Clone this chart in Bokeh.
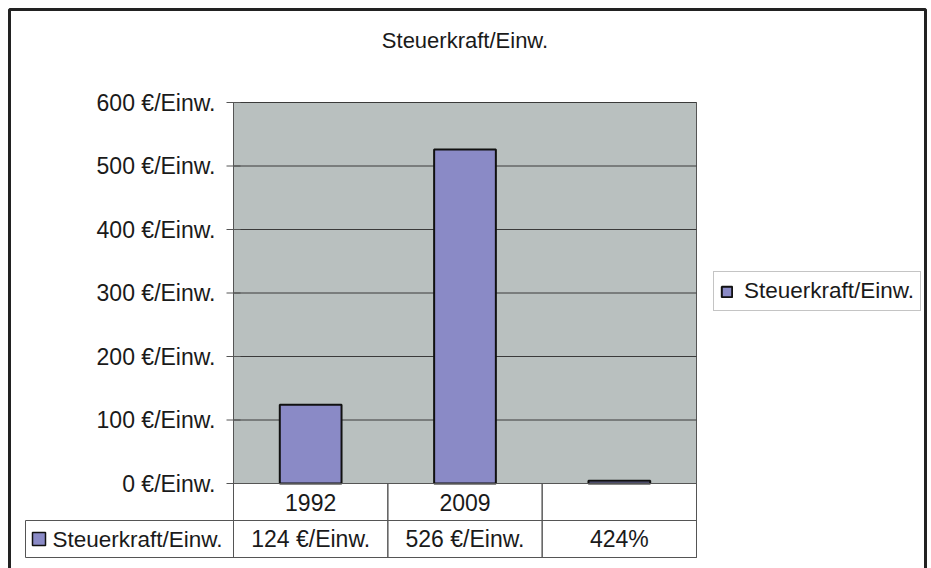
from bokeh.plotting import figure
from bokeh.models import (Range1d, Legend, LegendItem, Label, LabelSet, BoxAnnotation,
                          ColumnDataSource)
from bokeh.core.properties import value
from bokeh.embed import file_html
from bokeh.resources import INLINE

# --- data -----------------------------------------------------------------
chart_title = "Steuerkraft/Einw."
series_name = "Steuerkraft/Einw."
categories = ["1992", "2009", ""]
values = [124, 526, 4.24]
value_labels = ["124 €/Einw.", "526 €/Einw.", "424%"]
y_ticks = [0, 100, 200, 300, 400, 500, 600]
tick_labels = [f"{t} €/Einw." for t in y_ticks]

# --- page layout in canvas pixels (origin top-left) -----------------------
W, H = 931, 568
PLOT_L, PLOT_R, PLOT_T, PLOT_B = 233, 696, 102, 483   # grey plot area
ROW1_B, ROW2_B = 520, 557                              # data table rows
TABLE_L = 25

FONT = "Liberation Sans"
TEXT = "#1a1a1a"
BAR_FILL = "#8A8AC6"
PLOT_BG = "#B9C0BF"
RULE = "#555555"

n = len(categories)
y_max = y_ticks[-1]

# the frame fills the whole canvas; choose the ranges so that the
# category band [0, n] and the value band [0, y_max] land on the plot area
px_per_cat = (PLOT_R - PLOT_L) / n
px_per_val = (PLOT_B - PLOT_T) / y_max
x_range = Range1d(-PLOT_L / px_per_cat, n + (W - PLOT_R) / px_per_cat)
y_range = Range1d(-(H - PLOT_B) / px_per_val, y_max + PLOT_T / px_per_val)


def sy(cy):
    """canvas y (top-down) -> annotation screen units (bottom-up)"""
    return H - cy


def box(**kw):
    """opaque box annotation (defaults are translucent)"""
    kw.setdefault("fill_color", None)
    kw.setdefault("fill_alpha", 1)
    kw.setdefault("line_alpha", 1)
    return BoxAnnotation(**kw)


p = figure(frame_width=W, frame_height=H, output_backend="svg", toolbar_location=None,
           x_range=x_range, y_range=y_range, x_axis_type=None, y_axis_type=None,
           min_border=0)
p.outline_line_color = None
p.background_fill_color = "white"
p.border_fill_color = "white"

# grey plot area
p.quad(left=0, right=n, bottom=0, top=y_max, fill_color=PLOT_BG, line_color=RULE,
       line_width=1)

# horizontal grid lines at the value ticks
p.segment(x0=[0] * len(y_ticks), x1=[n] * len(y_ticks), y0=y_ticks, y1=y_ticks,
          line_color="#3a3a3a", line_width=1)

# value axis: line, outward ticks and labels
p.segment(x0=[0], x1=[0], y0=[0], y1=[y_max], line_color=RULE, line_width=1)
p.scatter(x=[0] * len(y_ticks), y=y_ticks, marker="dash", size=14,
          line_color=RULE, line_width=1)
p.text(x=[0] * len(y_ticks), y=y_ticks, text=tick_labels, x_offset=-18,
       text_align="right", text_baseline="middle", text_font=value(FONT),
       text_font_size="23px", text_color=TEXT)

# bars, one per category
centers = [i + 0.5 for i in range(n)]
bars = p.vbar(x=centers, top=values, width=0.4, bottom=0,
              fill_color=BAR_FILL, line_color="#111111", line_width=2)

# legend to the right of the plot area
legend = Legend(items=[LegendItem(label=series_name, renderers=[bars])],
                location=(713, sy(311)), margin=0, padding=6, spacing=0,
                glyph_width=13, glyph_height=13, label_standoff=11,
                label_text_font=FONT, label_text_font_size="22.5px",
                label_text_color=TEXT, border_line_color="#8a8a8a",
                border_line_width=1, background_fill_color="white",
                background_fill_alpha=1)
p.add_layout(legend)

# title
p.add_layout(Label(x=n / 2, y=sy(40), x_units="data", y_units="screen",
                   text=chart_title, text_align="center", text_baseline="middle",
                   text_font=FONT, text_font_size="22px", text_color=TEXT))

# data table below the plot area
for i in range(n):
    p.add_layout(box(left=i, right=i + 1, left_units="data", right_units="data",
                     top=sy(PLOT_B), bottom=sy(ROW2_B),
                     top_units="screen", bottom_units="screen",
                     line_color=RULE, line_width=1))
p.add_layout(box(left=TABLE_L, right=n, left_units="screen", right_units="data",
                 top=sy(ROW1_B), bottom=sy(ROW2_B),
                 top_units="screen", bottom_units="screen",
                 line_color=RULE, line_width=1))

src = ColumnDataSource(dict(x=centers, cat=categories, val=value_labels))
p.add_layout(LabelSet(source=src, x="x", y=sy((PLOT_B + ROW1_B) / 2), text="cat",
                      x_units="data", y_units="screen", text_align="center",
                      text_baseline="middle", text_font=value(FONT),
                      text_font_size="23px", text_color=TEXT))
p.add_layout(LabelSet(source=src, x="x", y=sy((ROW1_B + ROW2_B) / 2), text="val",
                      x_units="data", y_units="screen", text_align="center",
                      text_baseline="middle", text_font=value(FONT),
                      text_font_size="23px", text_color=TEXT))

# row header: series key + series name
p.add_layout(box(left=32, right=45, top=sy(532), bottom=sy(545),
                 left_units="screen", right_units="screen",
                 top_units="screen", bottom_units="screen",
                 fill_color=BAR_FILL, line_color="#111111", line_width=1.5))
p.add_layout(Label(x=52, y=sy((ROW1_B + ROW2_B) / 2), x_units="screen", y_units="screen",
                   text=series_name, text_align="left", text_baseline="middle",
                   text_font=FONT, text_font_size="22.5px", text_color=TEXT))

# chart border
p.add_layout(box(left=9, right=925, top=sy(9), bottom=-10,
                 left_units="screen", right_units="screen",
                 top_units="screen", bottom_units="screen",
                 line_color="#222222", line_width=3))

open("out.html", "w").write(file_html(p, INLINE))
